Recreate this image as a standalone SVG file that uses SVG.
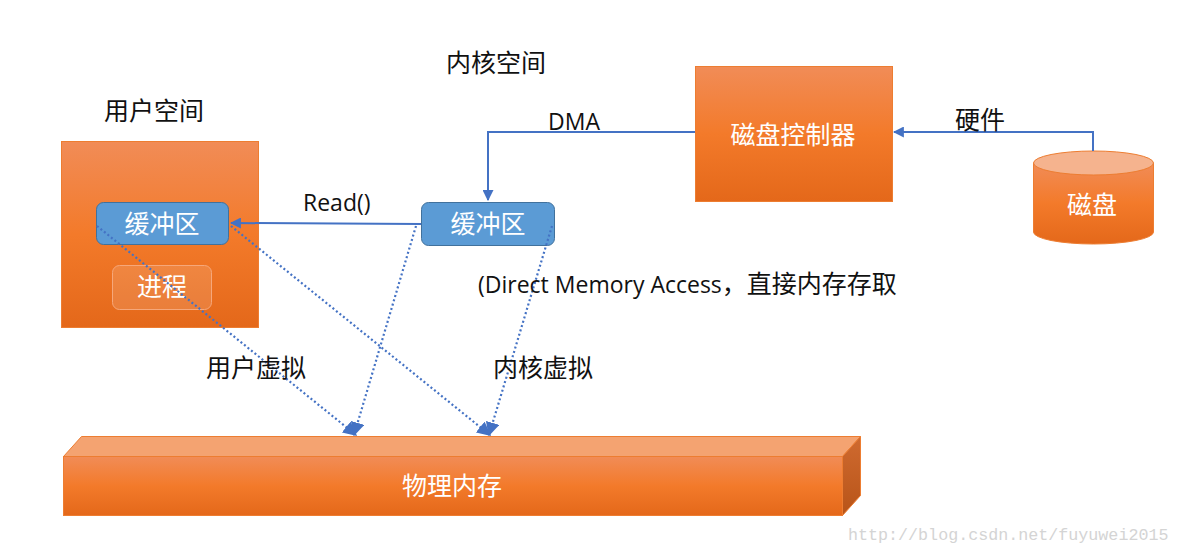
<svg xmlns="http://www.w3.org/2000/svg" width="1180" height="553" viewBox="0 0 1180 553">
<defs>
<linearGradient id="og" x1="0" y1="0" x2="0" y2="1">
<stop offset="0" stop-color="#f18c57"/>
<stop offset="0.5" stop-color="#f37a2a"/>
<stop offset="1" stop-color="#e4681a"/>
</linearGradient>
<linearGradient id="sideg" x1="0" y1="0" x2="0" y2="1">
<stop offset="0" stop-color="#cf6a30"/>
<stop offset="1" stop-color="#b85418"/>
</linearGradient>
<marker id="ahs" viewBox="0 0 10 10" refX="9" refY="5" markerWidth="11" markerHeight="11" orient="auto" markerUnits="userSpaceOnUse">
<path d="M0,0 L10,5 L0,10 z" fill="#4472c4"/>
</marker>
<marker id="ahd" viewBox="0 0 10 10" refX="9" refY="5" markerWidth="14" markerHeight="14" orient="auto" markerUnits="userSpaceOnUse">
<path d="M0,0 L10,5 L0,10 z" fill="#4472c4"/>
</marker>
</defs>
<style>
.lbl{font-family:"Noto Sans CJK SC","Liberation Serif",serif;font-size:25px;fill:#111}
.en{font-family:"Open Sans","Liberation Sans","Noto Sans CJK SC",sans-serif;font-size:23px;fill:#111}
.wt{font-family:"Noto Sans CJK SC",sans-serif;fill:#fff;text-anchor:middle}
.box{fill:url(#og);stroke:#ed7d31;stroke-width:1}
.buf{fill:#5b9bd5;stroke:#41719c;stroke-width:1}
.solid{fill:none;stroke:#4472c4;stroke-width:2}
.dot{fill:none;stroke:#4472c4;stroke-width:2.2;stroke-dasharray:2 2.5}
</style>
<rect width="1180" height="553" fill="#fff"/>

<g id="user-space">
<rect class="box" x="61.5" y="141.5" width="197" height="186"/>
<text class="lbl" x="104" y="120">用户空间</text>
</g>
<g id="user-buffer">
<rect class="buf" x="96.5" y="202.5" width="132" height="42" rx="7"/>
<text class="wt" x="162" y="233" font-size="25">缓冲区</text>
</g>
<g id="process">
<rect x="112.5" y="265.5" width="99" height="44" rx="7" fill="#ffffff" fill-opacity="0.13" stroke="#f6a77a" stroke-width="1"/>
<text class="wt" x="162" y="296" font-size="25">进程</text>
</g>
<g id="kernel-space-label">
<text class="lbl" x="446" y="72">内核空间</text>
</g>
<g id="kernel-buffer">
<rect class="buf" x="421.5" y="202.5" width="133" height="43" rx="7"/>
<text class="wt" x="488" y="233" font-size="25">缓冲区</text>
</g>
<g id="disk-controller">
<rect class="box" x="695.5" y="66.5" width="197" height="135"/>
<text class="wt" x="793" y="144" font-size="25">磁盘控制器</text>
</g>
<g id="disk">
<path d="M1033.5,163 L1033.5,232 A60,12 0 0 0 1153.5,232 L1153.5,163 Z" fill="url(#og)" stroke="#ed7d31"/>
<ellipse cx="1093.5" cy="163" rx="60" ry="12" fill="#f5b38e" stroke="#ed7d31"/>
<text class="wt" x="1092" y="214" font-size="25">磁盘</text>
</g>
<g id="physical-memory">
<polygon points="63.5,456.5 81.5,436.5 860.5,436.5 842.5,456.5" fill="#f4a371" stroke="#ed7d31"/>
<polygon points="842.5,456.5 860.5,436.5 860.5,495.5 842.5,515.5" fill="url(#sideg)" stroke="#ed7d31"/>
<rect x="63.5" y="456.5" width="779" height="59" fill="url(#og)" stroke="#ed7d31"/>
<text class="wt" x="452" y="495" font-size="25">物理内存</text>
</g>

<g id="connectors">
<path class="solid" d="M695,132 L488,132 L488,200" marker-end="url(#ahs)"/>
<path class="solid" d="M1093,151 L1093,132 L894,132" marker-end="url(#ahs)"/>
<path class="solid" d="M421,224 L231,223" marker-end="url(#ahs)"/>
<path class="dot" d="M97,226 L356,435" marker-end="url(#ahd)"/>
<path class="dot" d="M231,226 L490,435" marker-end="url(#ahd)"/>
<path class="dot" d="M416,226 L354,435" marker-end="url(#ahd)"/>
<path class="dot" d="M552,226 L489,435" marker-end="url(#ahd)"/>
</g>

<g id="labels">
<text class="en" x="548" y="130">DMA</text>
<text class="en" x="303" y="211">Read()</text>
<text class="en" x="478" y="293">(Direct Memory Access<tspan class="lbl">，直接内存存取</tspan></text>
<text class="lbl" x="206" y="377">用户虚拟</text>
<text class="lbl" x="493" y="377">内核虚拟</text>
<text class="lbl" x="955" y="129">硬件</text>
<text x="848" y="540" font-family="'Liberation Mono','DejaVu Sans Mono',monospace" font-size="16.7" fill="#d4d4d4">http://blog.csdn.net/fuyuwei2015</text>
</g>
</svg>
